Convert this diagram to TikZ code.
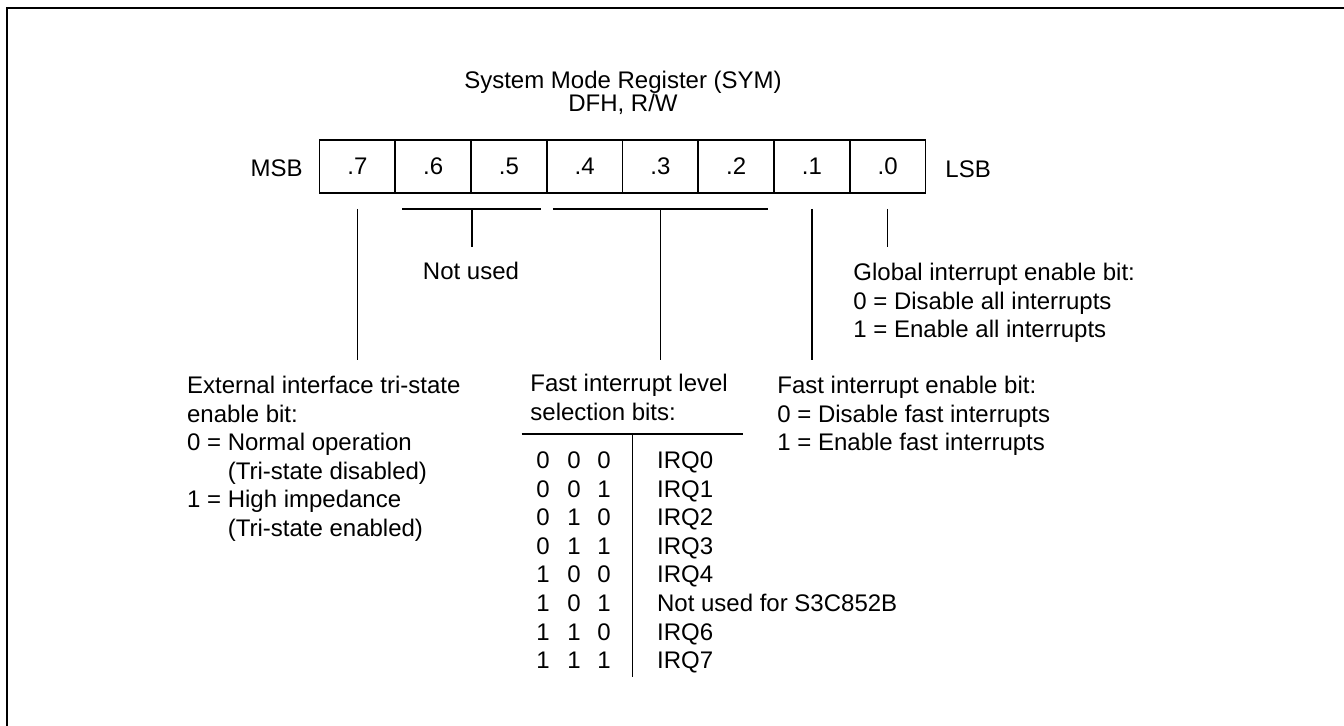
\documentclass[tikz,border=0pt]{standalone}
\usepackage{fontspec}
\setmainfont{Liberation Sans}
\usetikzlibrary{calc}
\tikzset{
  bitcell/.style={draw, line width=0.9pt, minimum width=37.875pt, minimum height=26.5pt},
  txt/.style={font=\fontsize{12}{14.3}\selectfont, inner sep=0pt},
  lead/.style={line width=0.65pt},
}
\begin{document}
\begin{tikzpicture}[x=0.5pt, y=-0.5pt]
	\useasboundingbox (0,0) rectangle (1344,726);
	% Frame
	\draw[line width=0.9pt] (7,726) -- (7,8) -- (1344,8);
	% Title
	\node[txt, align=center, anchor=base, font=\fontsize{12}{11.5}\selectfont] (title) at (623,112) {System Mode Register (SYM)\\DFH, R/W};
	% Register cells
	\foreach \b [count=\k from 0] in {7,...,0}
		\node[bitcell, txt] (b\b) at ({357.375+75.75*\k},166.5) {.\b};
	\node[txt, anchor=east] (msb) at (303,168) {MSB};
	\node[txt, anchor=west] (lsb) at (945,169) {LSB};
	% Leads under the cells
	\coordinate (e7) at ($(b7.south)+(0,166)$);
	\draw[lead] ($(b7.south)+(0,15)$) -- (e7);
	\draw[lead] ($(b6.south west)+(8,15)$) -- ($(b5.south east)+(-7,15)$);
	\coordinate (e65) at ($(b6.south east)+(0,53)$);
	\draw[lead] ($(b6.south east)+(0,15)$) -- (e65);
	\draw[lead] ($(b4.south west)+(7,15)$) -- ($(b2.south east)+(-7,15)$);
	\coordinate (e3) at ($(b3.south)+(0,166)$);
	\draw[lead] ($(b3.south)+(0,15)$) -- (e3);
	\coordinate (e1) at ($(b1.south)+(0,166)$);
	\draw[lead] ($(b1.south)+(0,15)$) -- (e1);
	\coordinate (e0) at ($(b0.south)+(0,53)$);
	\draw[lead] ($(b0.south)+(0,15)$) -- (e0);
	% Bit descriptions (base anchor = last line)
	\node[txt] (notused) at (471,271) {Not used};
	\node[txt, align=left, anchor=base west] (ext) at (186.7,536.6) {External interface tri-state\\enable bit:\\0 = Normal operation\\\phantom{0 = }(Tri-state disabled)\\1 = High impedance\\\phantom{0 = }(Tri-state enabled)};
	\node[txt, align=left, anchor=base west] (lvl) at (530,420.2) {Fast interrupt level\\selection bits:};
	\node[txt, align=left, anchor=base west] (fie) at (777,450.8) {Fast interrupt enable bit:\\0 = Disable fast interrupts\\1 = Enable fast interrupts};
	\node[txt, align=left, anchor=base west] (gie) at (853,337.8) {Global interrupt enable bit:\\0 = Disable all interrupts\\1 = Enable all interrupts};
	% Level table
	\coordinate (rl) at (521.7,434);
	\coordinate (rr) at (743,434);
	\draw[lead] (rl) -- (rr);
	\coordinate (vt) at (632.7,434);
	\coordinate (vb) at (632.7,676.7);
	\draw[lead] (vt) -- (vb);
	\foreach \p/\q/\s/\irq [count=\r from 0] in {0/0/0/IRQ0, 0/0/1/IRQ1, 0/1/0/IRQ2, 0/1/1/IRQ3, 1/0/0/IRQ4, 1/0/1/Not used for S3C852B, 1/1/0/IRQ6, 1/1/1/IRQ7}{
		\node[txt, anchor=base] (p\r) at (543,{468.6+28.57*\r}) {\p};
		\node[txt, anchor=base] (q\r) at (574,{468.6+28.57*\r}) {\q};
		\node[txt, anchor=base] (s\r) at (604,{468.6+28.57*\r}) {\s};
		\node[txt, anchor=base west] (irq\r) at (656.7,{468.6+28.57*\r}) {\irq};
	}
\end{tikzpicture}
\end{document}
